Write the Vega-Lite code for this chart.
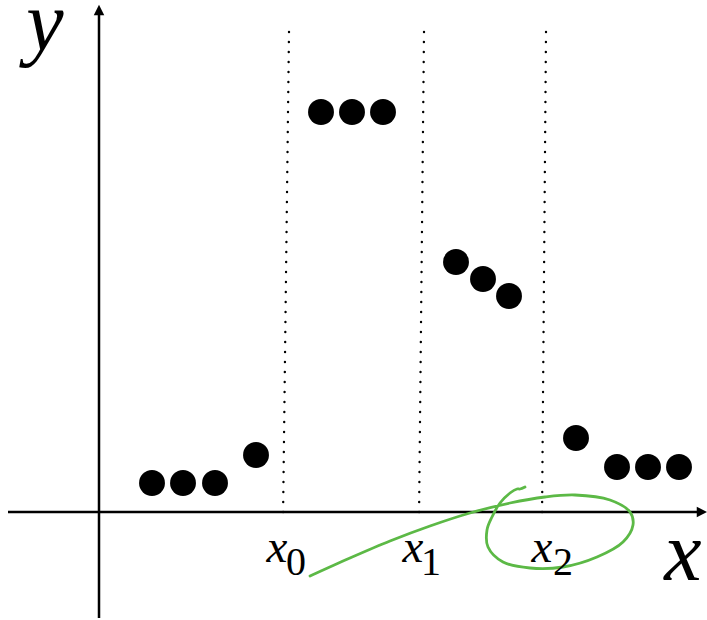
{
  "$schema": "https://vega.github.io/schema/vega-lite/v6.json",
  "width": 707,
  "height": 620,
  "autosize": {"type": "none"},
  "padding": 0,
  "background": "white",
  "config": {"view": {"stroke": null}},
  "datasets": {
    "axes": [
      {"name": "x", "u": -91, "v": 0, "u2": 601, "v2": 0},
      {"name": "y", "u": 0, "v": -106, "u2": 0, "v2": 500}
    ],
    "arrows": [
      {"dir": "up", "u": 0, "v": 502},
      {"dir": "right", "u": 603, "v": 0}
    ],
    "breaks": [
      {"name": "x0", "u": 190, "v": 480, "u2": 184, "v2": -8},
      {"name": "x1", "u": 325, "v": 480, "u2": 320, "v2": -8},
      {"name": "x2", "u": 447, "v": 480, "u2": 443, "v2": -8}
    ],
    "points": [
      {"u": 53, "v": 29},
      {"u": 84, "v": 29},
      {"u": 116, "v": 29},
      {"u": 157, "v": 57},
      {"u": 222, "v": 400},
      {"u": 253, "v": 400},
      {"u": 284, "v": 400},
      {"u": 357, "v": 250},
      {"u": 384, "v": 233},
      {"u": 410, "v": 216},
      {"u": 477, "v": 74},
      {"u": 518, "v": 45},
      {"u": 549, "v": 45},
      {"u": 580, "v": 45}
    ],
    "stroke": [
      {"i": 0, "u": 211, "v": -64},
      {"i": 1, "u": 251, "v": -46},
      {"i": 2, "u": 291, "v": -29},
      {"i": 3, "u": 331, "v": -14},
      {"i": 4, "u": 371, "v": -1},
      {"i": 5, "u": 411, "v": 9},
      {"i": 6, "u": 446, "v": 15},
      {"i": 7, "u": 476, "v": 17},
      {"i": 8, "u": 511, "v": 12},
      {"i": 9, "u": 531, "v": 0},
      {"i": 10, "u": 534, "v": -13},
      {"i": 11, "u": 524, "v": -30},
      {"i": 12, "u": 498, "v": -45},
      {"i": 13, "u": 464, "v": -55},
      {"i": 14, "u": 431, "v": -56},
      {"i": 15, "u": 404, "v": -50},
      {"i": 16, "u": 389, "v": -35},
      {"i": 17, "u": 388, "v": -18},
      {"i": 18, "u": 393, "v": -5},
      {"i": 19, "u": 401, "v": 9},
      {"i": 20, "u": 411, "v": 19},
      {"i": 21, "u": 418, "v": 23},
      {"i": 22, "u": 421, "v": 23},
      {"i": 23, "u": 426, "v": 25}
    ],
    "labels": [
      {"role": "axis", "text": "y", "u": -54, "v": 462},
      {"role": "axis", "text": "x", "u": 584, "v": -68},
      {"role": "var", "text": "x", "u": 178, "v": -50},
      {"role": "sub", "text": "0", "u": 197, "v": -63},
      {"role": "var", "text": "x", "u": 314, "v": -50},
      {"role": "sub", "text": "1", "u": 332, "v": -63},
      {"role": "var", "text": "x", "u": 443, "v": -50},
      {"role": "sub", "text": "2", "u": 464, "v": -63}
    ]
  },
  "encoding": {
    "x": {"field": "u", "type": "quantitative", "scale": {"domain": [-99, 608], "nice": false, "zero": false}, "axis": null},
    "y": {"field": "v", "type": "quantitative", "scale": {"domain": [-108, 512], "nice": false, "zero": false}, "axis": null}
  },
  "layer": [
    {
      "data": {"name": "breaks"},
      "mark": {"type": "rule", "color": "black", "strokeWidth": 2.4, "strokeCap": "round", "strokeDash": [0.1, 9.9]},
      "encoding": {"x2": {"field": "u2"}, "y2": {"field": "v2"}}
    },
    {
      "data": {"name": "axes"},
      "mark": {"type": "rule", "color": "black", "strokeWidth": 2.5},
      "encoding": {"x2": {"field": "u2"}, "y2": {"field": "v2"}}
    },
    {
      "data": {"name": "arrows"},
      "mark": {"type": "point", "filled": true, "color": "black", "opacity": 1, "size": 110, "strokeWidth": 0},
      "encoding": {
        "shape": {
          "field": "dir",
          "type": "nominal",
          "scale": {"domain": ["up", "right"], "range": ["M0,-1L1,1L-1,1Z", "M1,0L-1,-1L-1,1Z"]},
          "legend": null
        }
      }
    },
    {
      "data": {"name": "points"},
      "mark": {"type": "circle", "color": "black", "opacity": 1, "size": 670}
    },
    {
      "data": {"name": "stroke"},
      "mark": {"type": "line", "color": "#5cb946", "strokeWidth": 2.8, "interpolate": "catmull-rom", "strokeCap": "round"},
      "encoding": {"order": {"field": "i", "type": "quantitative"}}
    },
    {
      "data": {"name": "labels"},
      "transform": [{"filter": "datum.role === 'axis'"}],
      "mark": {"type": "text", "font": "Liberation Serif, Times New Roman, DejaVu Serif, serif", "fontStyle": "italic", "fontSize": 84, "align": "center", "baseline": "alphabetic", "color": "black"},
      "encoding": {"text": {"field": "text"}}
    },
    {
      "data": {"name": "labels"},
      "transform": [{"filter": "datum.role === 'var'"}],
      "mark": {"type": "text", "font": "Liberation Serif, Times New Roman, DejaVu Serif, serif", "fontStyle": "italic", "fontSize": 47, "align": "center", "baseline": "alphabetic", "color": "black"},
      "encoding": {"text": {"field": "text"}}
    },
    {
      "data": {"name": "labels"},
      "transform": [{"filter": "datum.role === 'sub'"}],
      "mark": {"type": "text", "font": "Liberation Serif, Times New Roman, DejaVu Serif, serif", "fontSize": 40, "align": "center", "baseline": "alphabetic", "color": "black"},
      "encoding": {"text": {"field": "text"}}
    }
  ]
}
